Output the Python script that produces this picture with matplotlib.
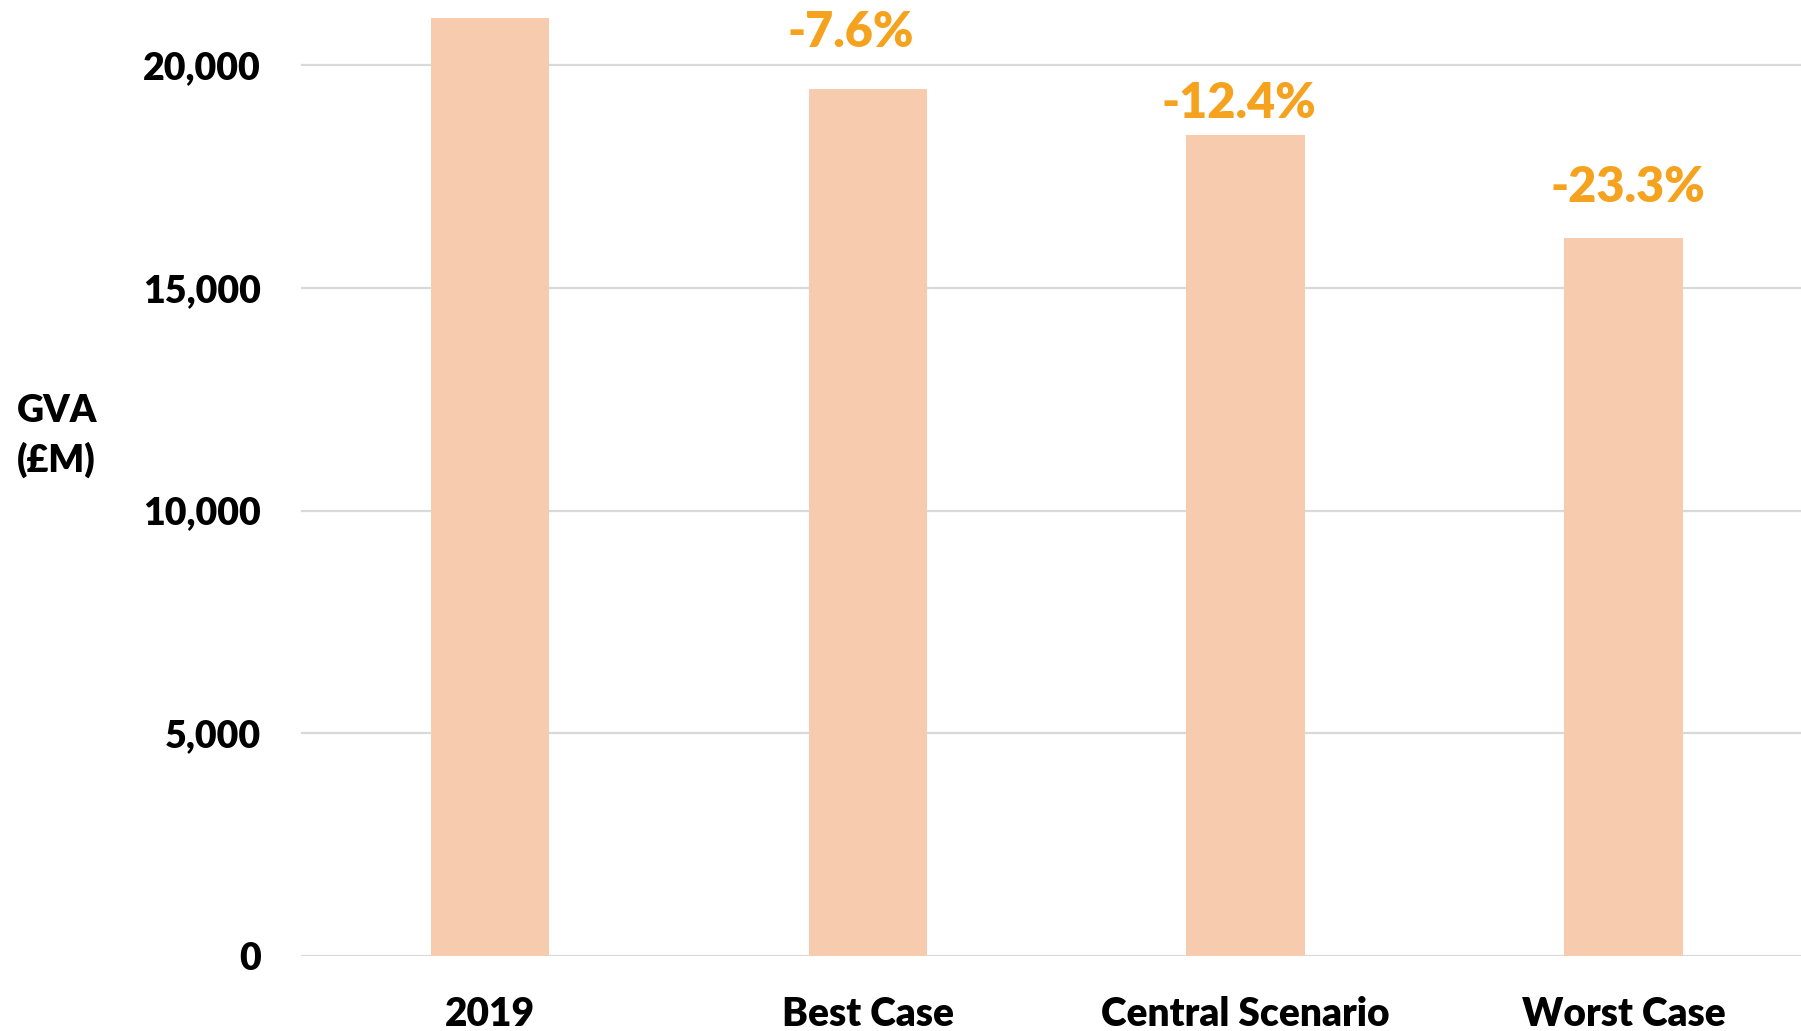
import matplotlib
matplotlib.use("Agg")
import matplotlib.pyplot as plt
from matplotlib.ticker import FuncFormatter

categories = ["2019", "Best Case", "Central Scenario", "Worst Case"]
gva = [21060, 19460, 18430, 16130]
change_labels = ["", "-7.6%", "-12.4%", "-23.3%"]
yticks = [0, 5000, 10000, 15000, 20000]

plt.rcParams['font.family'] = ['Lato', 'DejaVu Sans']

fig = plt.figure(figsize=(18.01, 10.31), dpi=100)
ax = fig.add_axes([301/1801, 1 - 955.6/1031, 1 - 301/1801, 955.6/1031])

x = list(range(len(categories)))
ax.bar(x, gva, width=0.313, color='#F7CBAD', zorder=2)

ax.set_xlim(-0.5, 3.47)
ax.set_ylim(0, 21470)
ax.set_yticks(yticks)
ax.yaxis.set_major_formatter(FuncFormatter(lambda v, p: f"{int(v):,}"))
ax.set_xticks(x)
ax.set_xticklabels(categories)
ax.grid(axis='y', color='#D9D9D9', linewidth=1.6, zorder=0)
ax.set_axisbelow(True)
for s in ax.spines.values():
    s.set_visible(False)
ax.tick_params(axis='y', length=0, labelsize=27, pad=29)
ax.tick_params(axis='x', length=0, labelsize=28, pad=29)
for lab in ax.get_xticklabels() + ax.get_yticklabels():
    lab.set_fontweight('heavy')

# per-label offsets (points) for the change annotations
label_dx = [0, -12, -5, 3]
label_dy = [0, 41, 23, 36]
for i, (v, t) in enumerate(zip(gva, change_labels)):
    if t:
        ax.annotate(t, xy=(i, v), xytext=(label_dx[i], label_dy[i]),
                    textcoords='offset points', ha='center', va='center',
                    fontsize=35, fontweight='heavy', color='#F5A31E',
                    annotation_clip=False)

fig.text(17/1801, 1 - 436/1031, "GVA\n(£M)", ha='left', va='center',
         fontsize=27, fontweight='heavy', linespacing=1.45)

fig.savefig("out.png", dpi=100)
